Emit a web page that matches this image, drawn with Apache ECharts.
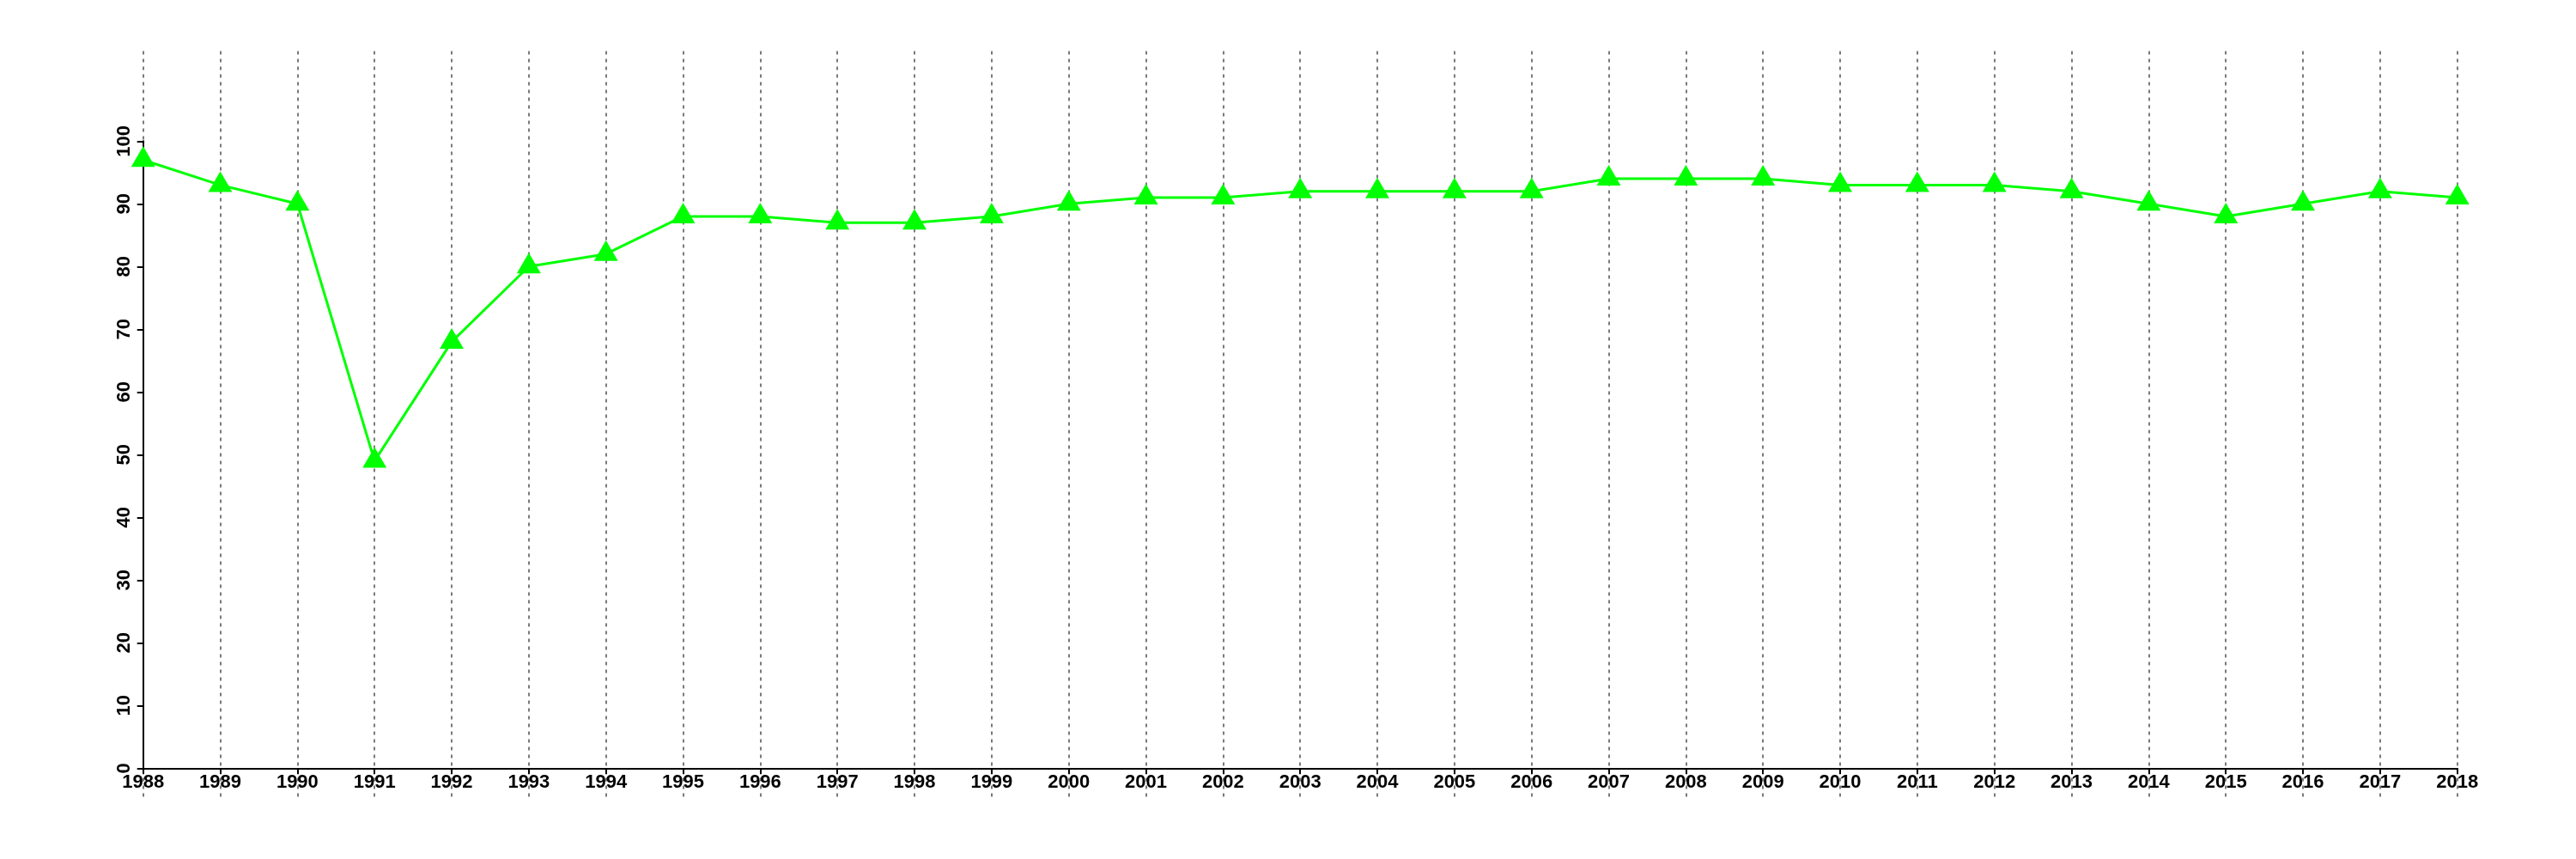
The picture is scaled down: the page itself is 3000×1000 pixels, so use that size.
<!DOCTYPE html>
<html>
<head>
<meta charset="utf-8">
<script src="https://cdn.jsdelivr.net/npm/echarts@6/dist/echarts.min.js"></script>
<style>
html,body{margin:0;padding:0;background:#fff;}
#chart{width:3000px;height:1000px;}
</style>
</head>
<body>
<div id="chart"></div>
<script>
const years = ['1988','1989','1990','1991','1992','1993','1994','1995','1996','1997','1998','1999','2000','2001','2002','2003','2004','2005','2006','2007','2008','2009','2010','2011','2012','2013','2014','2015','2016','2017','2018'];
const values = [97,93,90,49,68,80,82,88,88,87,87,88,90,91,91,92,92,92,92,94,94,94,93,93,93,92,90,88,90,92,91];
const yMin = 0, yMax = 100, yStep = 10;

const chart = echarts.init(document.getElementById('chart'), null, {renderer:'canvas'});
const font = 'Liberation Sans, Arial, Helvetica, sans-serif';
chart.setOption({
  backgroundColor:'#ffffff',
  animation:false,
  grid:[
    {left:166.7, right:138.3, top:59.5, bottom:72.5},
    {left:166.7, right:138.3, top:164.3, bottom:105.7}
  ],
  xAxis:[
    {gridIndex:0, type:'category', data:years, boundaryGap:false,
     axisLine:{show:false}, axisTick:{show:false}, axisLabel:{show:false},
     splitLine:{show:true, lineStyle:{color:'#7a7a7a', width:2, type:[4,5]}}},
    {gridIndex:1, type:'category', data:years, boundaryGap:false,
     axisLine:{show:true, lineStyle:{color:'#000', width:2}},
     axisTick:{show:true, length:7, lineStyle:{color:'#000', width:2}},
     axisLabel:{show:true, interval:0, margin:6, color:'#000', fontSize:22, fontWeight:'bold', fontFamily:font},
     splitLine:{show:false}}
  ],
  yAxis:[
    {gridIndex:0, type:'value', show:false, min:0, max:100, splitLine:{show:false}},
    {gridIndex:1, type:'value', min:yMin, max:yMax, interval:yStep,
     axisLine:{show:true, lineStyle:{color:'#000', width:2}},
     axisTick:{show:true, length:7, lineStyle:{color:'#000', width:2}},
     axisLabel:{show:true, rotate:90, align:'center', verticalAlign:'bottom', margin:11, color:'#000', fontSize:22, fontWeight:'bold', fontFamily:font},
     splitLine:{show:false}}
  ],
  series:[{
    type:'line', xAxisIndex:1, yAxisIndex:1, data:values,
    symbol:'triangle', symbolSize:[28,24], symbolOffset:[0,-4], showAllSymbol:true,
    lineStyle:{color:'#00ff00', width:3},
    itemStyle:{color:'#00ff00', borderWidth:0},
    clip:false, z:5
  }]
});
</script>
</body>
</html>
